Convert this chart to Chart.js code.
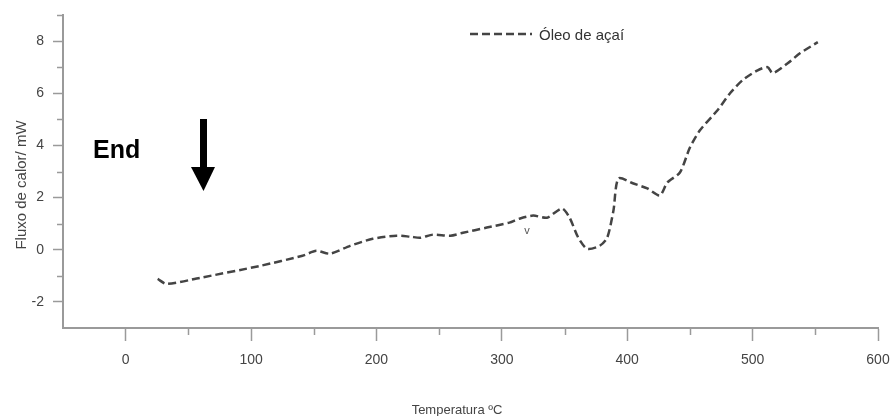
<!DOCTYPE html>
<html>
<head>
<meta charset="utf-8">
<script src="https://cdn.jsdelivr.net/npm/chart.js@4.4.1/dist/chart.umd.min.js"></script>
<style>
  html, body { margin: 0; padding: 0; background: #fff; }
  #wrap { width: 893px; height: 416px; position: relative; }
</style>
</head>
<body>
<div id="wrap"><canvas id="myChartDsc"></canvas></div>
<script>
// Curva DSC - óleo de açaí
const temperaturas = [25.5, 32.7, 59, 107, 141, 152, 163, 179, 197, 216, 227, 235, 245, 259, 269, 288, 306, 314, 325, 336, 348, 354, 361, 368, 378, 384, 389, 393, 405, 416, 426, 432, 442, 450, 458, 472, 482, 492, 504, 512, 516, 528, 538, 552];
const fluxoCalor = [-1.12, -1.31, -1.08, -0.62, -0.23, -0.04, -0.15, 0.15, 0.42, 0.54, 0.5, 0.46, 0.58, 0.54, 0.65, 0.85, 1.04, 1.19, 1.31, 1.23, 1.58, 1.23, 0.46, 0.04, 0.15, 0.46, 1.5, 2.73, 2.54, 2.35, 2.08, 2.58, 2.96, 3.92, 4.58, 5.35, 6.0, 6.5, 6.88, 7.0, 6.77, 7.15, 7.54, 7.96];
const ticksX = [0, 100, 200, 300, 400, 500, 600];
const ticksY = [-2, 0, 2, 4, 6, 8];
const nomeSerie = 'Óleo de açaí';

const corEixo = '#9a9a9a';
const corTexto = '#444';
const fonte = 'Arial, "Liberation Sans", sans-serif';

// legenda, títulos dos eixos, ticks menores, "End" e seta
const extras = {
    id: 'extras',
    afterDraw(chart) {
        const ctx = chart.ctx;
        const sx = chart.scales.x;
        const sy = chart.scales.y;
        ctx.save();

        // ticks menores
        ctx.strokeStyle = corEixo;
        ctx.lineWidth = 1.5;
        ctx.beginPath();
        for (let v = 50; v <= 550; v += 100) {
            const px = Math.round(sx.getPixelForValue(v)) + 0.5;
            ctx.moveTo(px, sx.top);
            ctx.lineTo(px, sx.top + 7);
        }
        for (let v = -1; v <= 9; v += 2) {
            const py = Math.round(sy.getPixelForValue(v)) + 0.5;
            ctx.moveTo(sy.right - 6, py);
            ctx.lineTo(sy.right, py);
        }
        ctx.stroke();

        // legenda
        ctx.strokeStyle = '#444';
        ctx.lineWidth = 2.5;
        ctx.setLineDash([8, 4]);
        ctx.beginPath();
        ctx.moveTo(470, 34);
        ctx.lineTo(532, 34);
        ctx.stroke();
        ctx.setLineDash([]);
        ctx.fillStyle = '#333';
        ctx.font = '15px ' + fonte;
        ctx.textBaseline = 'middle';
        ctx.fillText(nomeSerie, 539, 36);

        // títulos dos eixos
        ctx.fillStyle = corTexto;
        ctx.textAlign = 'center';
        ctx.font = '13px ' + fonte;
        ctx.fillText('Temperatura ºC', 457, 410);
        ctx.save();
        ctx.translate(22, 185);
        ctx.rotate(-Math.PI / 2);
        ctx.font = '15px ' + fonte;
        ctx.fillText('Fluxo de calor/ mW', 0, 0);
        ctx.restore();

        // pequeno "v" perto de 320 °C
        ctx.font = '11px ' + fonte;
        ctx.fillStyle = '#555';
        ctx.fillText('v', sx.getPixelForValue(320), sy.getPixelForValue(0.72));

        // "End"
        ctx.font = 'bold 25px ' + fonte;
        ctx.fillStyle = '#000';
        ctx.textAlign = 'left';
        ctx.fillText('End', 93, 151);

        // seta
        ctx.fillRect(200, 119, 7, 49);
        ctx.beginPath();
        ctx.moveTo(191, 167);
        ctx.lineTo(215, 167);
        ctx.lineTo(203.5, 191);
        ctx.closePath();
        ctx.fill();
        ctx.restore();
    }
};

const ctxDsc = document.getElementById('myChartDsc');

new Chart(ctxDsc, {
    type: 'line',
    data: {
        datasets: [
            {
                label: nomeSerie,
                data: temperaturas.map((t, i) => ({ x: t, y: fluxoCalor[i] })),
                borderColor: '#444',
                borderWidth: 2.5,
                borderDash: [8, 4],
                pointRadius: 0,
                tension: 0.25,
                fill: false
            }
        ]
    },
    options: {
        responsive: true,
        maintainAspectRatio: false,
        animation: false,
        layout: { padding: { top: 15, right: 15, left: 0, bottom: 0 } },
        plugins: {
            legend: { display: false },
            tooltip: { enabled: false }
        },
        scales: {
            x: {
                type: 'linear',
                min: -50,
                max: 600,
                afterFit(scale) {
                    scale.height = 88;
                    scale.paddingLeft = 0;
                    scale.paddingRight = 0;
                },
                afterBuildTicks(scale) {
                    scale.ticks = ticksX.map(v => ({ value: v }));
                },
                ticks: {
                    color: corTexto,
                    font: { family: fonte, size: 14 },
                    padding: 11,
                    maxRotation: 0,
                    autoSkip: false
                },
                grid: {
                    drawOnChartArea: false,
                    color: corEixo,
                    tickLength: 13,
                    tickWidth: 1.5
                },
                border: { color: corEixo, width: 2 }
            },
            y: {
                min: -3,
                max: 9,
                afterFit(scale) {
                    scale.width = 63;
                    scale.paddingTop = 0;
                    scale.paddingBottom = 0;
                },
                afterBuildTicks(scale) {
                    scale.ticks = ticksY.map(v => ({ value: v }));
                },
                ticks: {
                    color: corTexto,
                    font: { family: fonte, size: 14 },
                    padding: 9,
                    autoSkip: false
                },
                grid: {
                    drawOnChartArea: false,
                    color: corEixo,
                    tickLength: 10,
                    tickWidth: 1.5
                },
                border: { color: corEixo, width: 2 }
            }
        }
    },
    plugins: [extras]
});
</script>
</body>
</html>
